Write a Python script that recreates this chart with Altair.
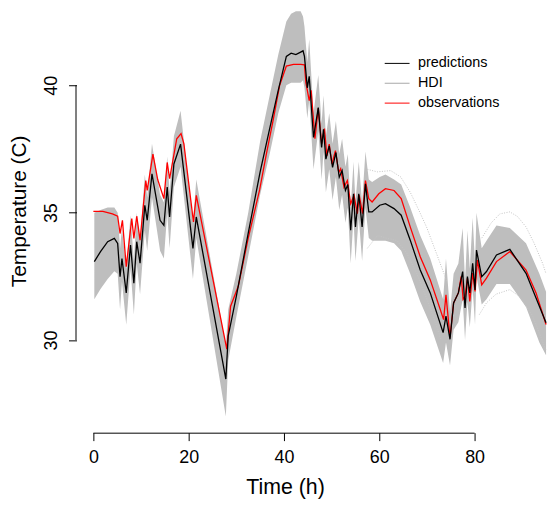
import altair as alt
import pandas as pd

# ---------------- data ----------------
pred_t = [0.2, 1.5, 3.0, 4.4, 5.1, 5.6, 6.0, 6.9, 7.8, 8.5,
          9.1, 9.8, 10.8, 11.3, 12.3, 14.0, 14.8, 15.5, 16.0, 16.9,
          18.3, 20.9, 21.6, 27.8, 28.3, 30.0, 32.5, 35.0, 37.0, 38.8,
          40.5, 41.5, 42.5, 43.5, 44.0, 44.3, 44.9, 45.3, 46.2, 47.2,
          47.9, 48.3, 48.8, 49.5, 50.2, 50.9, 51.6, 52.2, 52.9, 53.4,
          54.0, 54.6, 55.0, 55.7, 56.4, 57.1, 57.8, 58.5, 60.1, 61.3,
          63.1, 64.6, 66.5, 68.6, 70.7, 73.4, 74.0, 74.85, 75.6, 76.6,
          77.5, 78.0, 78.5, 79.0, 79.6, 80.1, 80.4, 81.5, 82.5, 84.6,
          87.4, 90.8, 93.6, 95.0]
pred_v = [33.08, 33.47, 33.86, 33.99, 33.79, 32.49, 33.2, 31.85, 33.73, 32.23,
          33.86, 33.02, 35.29, 34.70, 36.52, 34.70, 34.50, 36.00, 34.83, 36.91,
          37.69, 33.60, 34.83, 28.47, 30.16, 31.71, 34.2, 36.6, 38.3, 39.8,
          41.13, 41.26, 41.2, 41.3, 41.35, 41.13, 39.9, 40.35, 37.95, 39.12,
          37.56, 38.27, 37.1, 37.62, 36.78, 37.36, 36.39, 36.65, 35.87, 36.1,
          34.31, 35.74, 34.44, 35.74, 34.44, 36.13, 35.03, 35.03, 35.29, 35.35,
          35.16, 34.9, 33.92, 32.75, 31.85, 30.29, 30.94, 30.03, 31.46, 31.85,
          32.69, 31.26, 32.49, 31.85, 33.01, 31.97, 33.53, 32.49, 32.69, 33.34,
          33.56, 32.62, 31.33, 30.68]
hdi_lo = [31.6, 32.0, 32.4, 32.7, 32.6, 31.2, 32.3, 30.6, 32.8, 31.0,
          33.0, 31.8, 34.3, 33.5, 35.6, 33.5, 33.2, 35.0, 33.6, 36.0,
          36.8, 32.4, 34.0, 27.0, 29.2, 30.9, 33.3, 35.7, 37.3, 38.9,
          40.0, 40.1, 40.1, 40.1, 40.2, 39.9, 38.7, 39.4, 36.7, 38.2,
          36.3, 37.4, 35.8, 36.7, 35.5, 36.4, 35.1, 35.7, 34.6, 35.2,
          33.0, 34.8, 33.1, 34.8, 33.1, 35.2, 34.0, 33.9, 33.9, 33.9,
          33.8, 33.5, 32.6, 31.5, 30.6, 29.1, 29.9, 29.0, 30.4, 30.7,
          31.6, 30.0, 31.5, 30.5, 32.0, 30.6, 32.5, 31.4, 31.6, 32.2,
          32.2, 31.3, 29.9, 29.4]
hdi_hi = [35.0, 35.1, 35.2, 35.2, 35.0, 33.6, 34.4, 32.8, 34.9, 33.1,
          35.0, 33.9, 36.5, 35.6, 37.7, 35.7, 35.4, 37.2, 35.8, 38.0,
          39.0, 34.6, 36.3, 29.8, 31.2, 32.6, 35.0, 37.8, 39.6, 41.2,
          42.5, 42.8, 42.9, 42.9, 42.7, 42.3, 40.9, 41.8, 38.9, 40.4,
          38.5, 39.6, 38.0, 38.9, 37.7, 38.6, 37.3, 37.9, 36.8, 37.3,
          35.2, 37.0, 35.4, 37.0, 35.4, 37.4, 36.3, 36.2, 36.4, 36.5,
          36.3, 36.1, 35.2, 34.1, 33.2, 31.6, 33.2, 31.1, 32.6, 33.0,
          34.4, 32.3, 34.3, 32.8, 34.8, 33.0, 35.0, 33.6, 33.9, 34.5,
          34.4, 33.8, 32.6, 31.9]

# faint outlying HDI draws (dotted)
out_hi_t = [57.5, 59.6, 62.4, 64.5, 66.5, 68.3, 70.0, 72.8, 74.2]
out_hi_v = [36.7, 36.6, 36.65, 36.4, 35.8, 35.1, 34.4, 33.0, 32.3]
out_hi2_t = [81.5, 83.5, 85.3, 87.4, 89.0, 90.8, 92.5, 94.3, 95.0]
out_hi2_v = [34.0, 34.6, 34.95, 35.03, 34.85, 34.44, 33.8, 33.0, 32.6]
out_lo_t = [57.5, 59.6, 61.5, 63.75, 65.8, 67.9, 69.6, 71.4, 73.0]
out_lo_v = [33.6, 34.1, 34.0, 33.9, 33.4, 32.6, 31.8, 30.9, 30.0]
out_lo2_t = [81.0, 82.5, 84.5, 87.4, 89.5, 92.2, 95.0]
out_lo2_v = [31.0, 31.46, 31.8, 31.98, 31.7, 30.94, 29.6]

obs_t = [0.0, 2.0, 4.0, 5.1, 5.6, 6.1, 6.9, 8.06, 8.5, 9.1,
         9.8, 11.0, 11.3, 12.5, 13.5, 14.8, 15.5, 16.0, 17.5, 18.4,
         19.0, 21.0, 21.6, 28.0, 28.8, 30.4, 32.5, 34.9, 36.3, 37.7,
         39.1, 40.5, 42.0, 43.5, 44.3, 44.6, 45.3, 45.7, 46.5, 47.2,
         47.9, 48.5, 49.0, 49.5, 50.06, 50.8, 51.5, 51.9, 52.6, 53.3,
         54.0, 54.7, 55.4, 55.8, 56.5, 57.1, 57.8, 58.5, 59.9, 61.3,
         63.1, 64.6, 66.5, 68.6, 70.7, 72.8, 73.5, 74.0, 74.85, 75.6,
         76.6, 77.2, 77.6, 78.0, 78.5, 79.0, 79.6, 80.1, 80.6, 81.5,
         82.5, 84.6, 87.4, 90.8, 92.9, 95.0]
obs_v = [35.05, 35.05, 34.95, 34.86, 34.18, 34.7, 32.88, 34.77, 33.99, 34.86,
         33.92, 36.26, 35.87, 37.3, 36.3, 35.55, 36.97, 36.33, 37.9, 38.1,
         37.7, 34.64, 35.68, 29.64, 31.33, 32.1, 34.0, 35.9, 37.3, 38.6,
         40.0, 40.75, 40.82, 40.82, 40.8, 40.1, 39.4, 39.8, 37.9, 39.1,
         37.7, 38.3, 37.23, 37.69, 36.91, 37.43, 36.58, 36.72, 36.0, 36.26,
         35.35, 35.68, 34.96, 35.68, 34.96, 36.26, 35.55, 35.42, 35.74, 35.94,
         35.87, 35.55, 34.44, 33.27, 32.36, 31.2, 30.8, 31.78, 30.1, 31.46,
         31.85, 32.5, 31.6, 31.71, 32.43, 31.52, 32.63, 31.91, 33.14, 32.17,
         32.43, 33.08, 33.47, 32.75, 31.85, 30.61]

x_ticks = [0, 20, 40, 60, 80]
y_ticks = [30, 35, 40]
series_names = ["predictions", "HDI", "observations"]
series_colors = ["#000000", "#A8A8A8", "#FF0000"]
band_color = "#BEBEBE"

# ---------------- layout ----------------
W, H = 479, 426
X_DOM = [-3.54, 96.25]
Y_DOM = [26.365, 42.96]
FONT = "Liberation Sans"

band_df = pd.DataFrame({"t": pred_t, "lo": hdi_lo, "hi": hdi_hi})
lines_df = pd.concat([
    pd.DataFrame({"t": obs_t, "v": obs_v, "series": "observations"}),
    pd.DataFrame({"t": pred_t, "v": pred_v, "series": "predictions"}),
], ignore_index=True)
outl_df = pd.concat([
    pd.DataFrame({"t": out_hi_t, "v": out_hi_v, "k": "u1"}),
    pd.DataFrame({"t": out_hi2_t, "v": out_hi2_v, "k": "u2"}),
    pd.DataFrame({"t": out_lo_t, "v": out_lo_v, "k": "l1"}),
    pd.DataFrame({"t": out_lo2_t, "v": out_lo2_v, "k": "l2"}),
], ignore_index=True)

xs = alt.Scale(domain=X_DOM, nice=False, zero=False)
ys = alt.Scale(domain=Y_DOM, nice=False, zero=False)

x_axis = alt.Axis(values=x_ticks, format="d", grid=False, domain=False,
                  tickSize=8, tickColor="black", tickWidth=1,
                  labelFont=FONT, labelFontSize=18, labelColor="black",
                  labelPadding=8, labelFlush=False, labelOverlap=False,
                  title="Time (h)", titleFont=FONT, titleFontSize=21.5,
                  titleFontWeight="normal", titleColor="black",
                  titleX=210, titleY=55, titleAlign="center", titleBaseline="middle")
y_axis = alt.Axis(values=y_ticks, format="d", grid=False, domain=False,
                  tickSize=8, tickColor="black", tickWidth=1,
                  labelFont=FONT, labelFontSize=18, labelColor="black",
                  labelAngle=270, labelAlign="center", labelBaseline="alphabetic",
                  labelPadding=12, labelFlush=False, labelOverlap=False,
                  title="Temperature (C)", titleFont=FONT, titleFontSize=21,
                  titleFontWeight="normal", titleColor="black",
                  titleAngle=270, titleX=-51, titleY=202.5,
                  titleAlign="center", titleBaseline="alphabetic")

band = alt.Chart(band_df).mark_area(color=band_color, opacity=1).encode(
    x=alt.X("t:Q", scale=xs, axis=x_axis),
    y=alt.Y("lo:Q", scale=ys, axis=y_axis),
    y2="hi:Q",
)

outl = alt.Chart(outl_df).mark_line(color="#C4C4C4", strokeWidth=1,
                                    strokeDash=[1, 1.5]).encode(
    x=alt.X("t:Q", scale=xs),
    y=alt.Y("v:Q", scale=ys),
    detail="k:N",
    order="t:Q",
)

lines = alt.Chart(lines_df).mark_line(strokeWidth=1.3).encode(
    x=alt.X("t:Q", scale=xs),
    y=alt.Y("v:Q", scale=ys),
    color=alt.Color("series:N",
                    scale=alt.Scale(domain=series_names, range=series_colors),
                    legend=alt.Legend(orient="none", legendX=310, legendY=41,
                                      title=None, symbolType="stroke",
                                      symbolSize=625, symbolStrokeWidth=1,
                                      labelFont=FONT, labelFontSize=14.5,
                                      labelColor="black", labelOffset=8,
                                      rowPadding=-10, padding=0)),
    detail="series:N",
    order="t:Q",
)

xline_df = pd.DataFrame({"a": [x_ticks[0]], "b": [x_ticks[-1]]})
yline_df = pd.DataFrame({"a": [y_ticks[0]], "b": [y_ticks[-1]]})

x_line = alt.Chart(xline_df).mark_rule(color="black", strokeWidth=1).encode(
    x=alt.X("a:Q", scale=xs), x2="b:Q", y=alt.value(H + 0.5))
y_line = alt.Chart(yline_df).mark_rule(color="black", strokeWidth=1).encode(
    y=alt.Y("a:Q", scale=ys), y2="b:Q", x=alt.value(-0.5))

chart = alt.layer(band, outl, lines, x_line, y_line).properties(
    width=W, height=H,
    padding={"left": 69, "top": 0, "right": 0, "bottom": 66},
    autosize=alt.AutoSizeParams(type="none"),
).configure_view(stroke=None)

chart.save("out.html", embed_options={"renderer": "svg", "actions": False})
